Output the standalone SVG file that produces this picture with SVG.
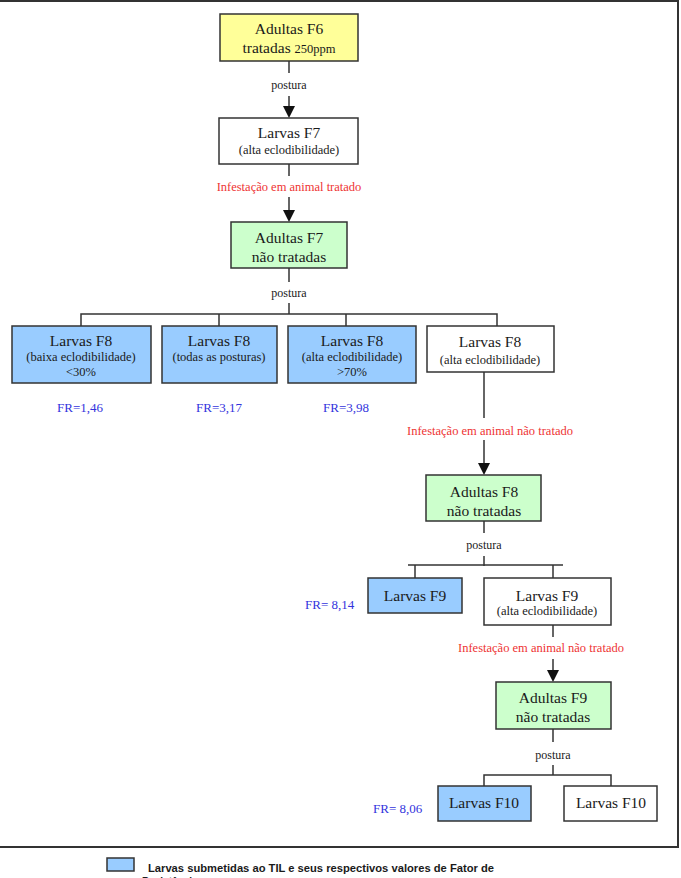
<svg xmlns="http://www.w3.org/2000/svg" width="681" height="878" viewBox="0 0 681 878">
<style>
.box{stroke:#333;stroke-width:1.5}
.y{fill:#FFFF99}.g{fill:#CCFFCC}.b{fill:#99CCFF}.w{fill:#fff}
.t{font-family:"Liberation Serif","Times New Roman",serif;fill:#1a1a1a;text-anchor:middle}
.big{font-size:15.5px}.sm{font-size:12.5px}.post{font-size:12px}
.red{font-family:"Liberation Serif",serif;font-size:12.5px;fill:#EE3333;text-anchor:middle}
.fr{font-family:"Liberation Serif",serif;font-size:13px;fill:#3333DD}
.ln{stroke:#333;stroke-width:1.5;fill:none}
.lg{font-family:"Liberation Sans",Arial,sans-serif;font-weight:bold;font-size:10px;fill:#1a1a1a}
</style>
<rect x="0" y="0" width="681" height="878" fill="#fff"/>
<rect x="-2" y="1" width="680" height="846" fill="none" stroke="#333" stroke-width="2"/>

<g id="connectors">
<line class="ln" x1="289" y1="61" x2="289" y2="73"/>
<path d="M289,96 L289,108" class="ln"/><path d="M283,106 L295,106 L289,118 Z" fill="#111"/>
<line class="ln" x1="289" y1="164" x2="289" y2="176"/>
<path d="M289,197 L289,212" class="ln"/><path d="M283,210 L295,210 L289,222 Z" fill="#111"/>
<line class="ln" x1="289" y1="268" x2="289" y2="282"/>
<line class="ln" x1="289" y1="303" x2="289" y2="314"/>
<polyline class="ln" points="81,326 81,314 497,314 497,326"/>
<line class="ln" x1="219" y1="314" x2="219" y2="326"/>
<line class="ln" x1="346" y1="314" x2="346" y2="326"/>
<line class="ln" x1="484" y1="372" x2="484" y2="418"/>
<path d="M484,440 L484,464" class="ln"/><path d="M478,463 L490,463 L484,475 Z" fill="#111"/>
<line class="ln" x1="484" y1="521" x2="484" y2="533"/>
<line class="ln" x1="484" y1="556" x2="484" y2="566"/>
<line class="ln" x1="408" y1="565" x2="563" y2="565"/>
<line class="ln" x1="415" y1="565" x2="415" y2="578"/>
<line class="ln" x1="553" y1="565" x2="553" y2="578"/>
<line class="ln" x1="553" y1="625" x2="553" y2="637"/>
<path d="M553,659 L553,672" class="ln"/><path d="M547,670 L559,670 L553,682 Z" fill="#111"/>
<line class="ln" x1="553" y1="729" x2="553" y2="742"/>
<line class="ln" x1="553" y1="765" x2="553" y2="775"/>
<polyline class="ln" points="484,786 484,775 611,775 611,786"/>
</g>

<g id="labels">
<text class="t post" x="289" y="89">postura</text>
<text class="red" x="289" y="191">Infestação em animal tratado</text>
<text class="t post" x="289" y="297">postura</text>
<text class="red" x="490" y="435">Infestação em animal não tratado</text>
<text class="t post" x="484" y="549">postura</text>
<text class="red" x="541" y="652">Infestação em animal não tratado</text>
<text class="t post" x="553" y="759">postura</text>
<text class="fr" x="80" y="412" text-anchor="middle">FR=1,46</text>
<text class="fr" x="219" y="412" text-anchor="middle">FR=3,17</text>
<text class="fr" x="346" y="412" text-anchor="middle">FR=3,98</text>
<text class="fr" x="305" y="609">FR= 8,14</text>
<text class="fr" x="373" y="813">FR= 8,06</text>
</g>

<g id="n-adultas-f6">
<rect class="box y" x="220" y="14" width="138" height="47"/>
<text class="t big" x="289" y="34">Adultas F6</text>
<text class="t big" x="289" y="53">tratadas <tspan font-size="12.5px">250ppm</tspan></text>
</g>
<g id="n-larvas-f7">
<rect class="box w" x="219" y="118" width="139" height="46"/>
<text class="t big" x="289" y="138">Larvas F7</text>
<text class="t sm" x="289" y="154">(alta eclodibilidade)</text>
</g>
<g id="n-adultas-f7">
<rect class="box g" x="231" y="222" width="116" height="46"/>
<text class="t big" x="289" y="243">Adultas F7</text>
<text class="t big" x="289" y="262">não tratadas</text>
</g>
<g id="n-larvas-f8-baixa">
<rect class="box b" x="12" y="326" width="139" height="57"/>
<text class="t big" x="81" y="346">Larvas F8</text>
<text class="t sm" x="81" y="361">(baixa eclodibilidade)</text>
<text class="t sm" x="81" y="376">&lt;30%</text>
</g>
<g id="n-larvas-f8-todas">
<rect class="box b" x="162" y="326" width="115" height="57"/>
<text class="t big" x="219" y="346">Larvas F8</text>
<text class="t sm" x="219" y="361">(todas as posturas)</text>
</g>
<g id="n-larvas-f8-alta">
<rect class="box b" x="288" y="326" width="128" height="57"/>
<text class="t big" x="352" y="346">Larvas F8</text>
<text class="t sm" x="352" y="361">(alta eclodibilidade)</text>
<text class="t sm" x="352" y="376">&gt;70%</text>
</g>
<g id="n-larvas-f8-alta2">
<rect class="box w" x="427" y="326" width="127" height="46"/>
<text class="t big" x="490" y="347">Larvas F8</text>
<text class="t sm" x="490" y="364">(alta eclodibilidade)</text>
</g>
<g id="n-adultas-f8">
<rect class="box g" x="426" y="475" width="115" height="46"/>
<text class="t big" x="484" y="497">Adultas F8</text>
<text class="t big" x="484" y="516">não tratadas</text>
</g>
<g id="n-larvas-f9-blue">
<rect class="box b" x="368" y="578" width="94" height="35"/>
<text class="t big" x="415" y="601">Larvas F9</text>
</g>
<g id="n-larvas-f9-alta">
<rect class="box w" x="484" y="578" width="127" height="47"/>
<text class="t big" x="547" y="601">Larvas F9</text>
<text class="t sm" x="547" y="615">(alta eclodibilidade)</text>
</g>
<g id="n-adultas-f9">
<rect class="box g" x="496" y="682" width="115" height="47"/>
<text class="t big" x="553" y="703">Adultas F9</text>
<text class="t big" x="553" y="722">não tratadas</text>
</g>
<g id="n-larvas-f10-blue">
<rect class="box b" x="438" y="786" width="93" height="35"/>
<text class="t big" x="484" y="808">Larvas F10</text>
</g>
<g id="n-larvas-f10">
<rect class="box w" x="564" y="786" width="93" height="35"/>
<text class="t big" x="611" y="808">Larvas F10</text>
</g>

<g id="legend">
<rect x="107" y="858" width="27" height="13" fill="#99CCFF" stroke="#333" stroke-width="1.5"/>
<text class="lg" x="148" y="872" textLength="346" lengthAdjust="spacingAndGlyphs">Larvas submetidas ao TIL e seus respectivos valores de Fator de</text>
<text class="lg" x="142" y="885">Resistência</text>
</g>
</svg>
